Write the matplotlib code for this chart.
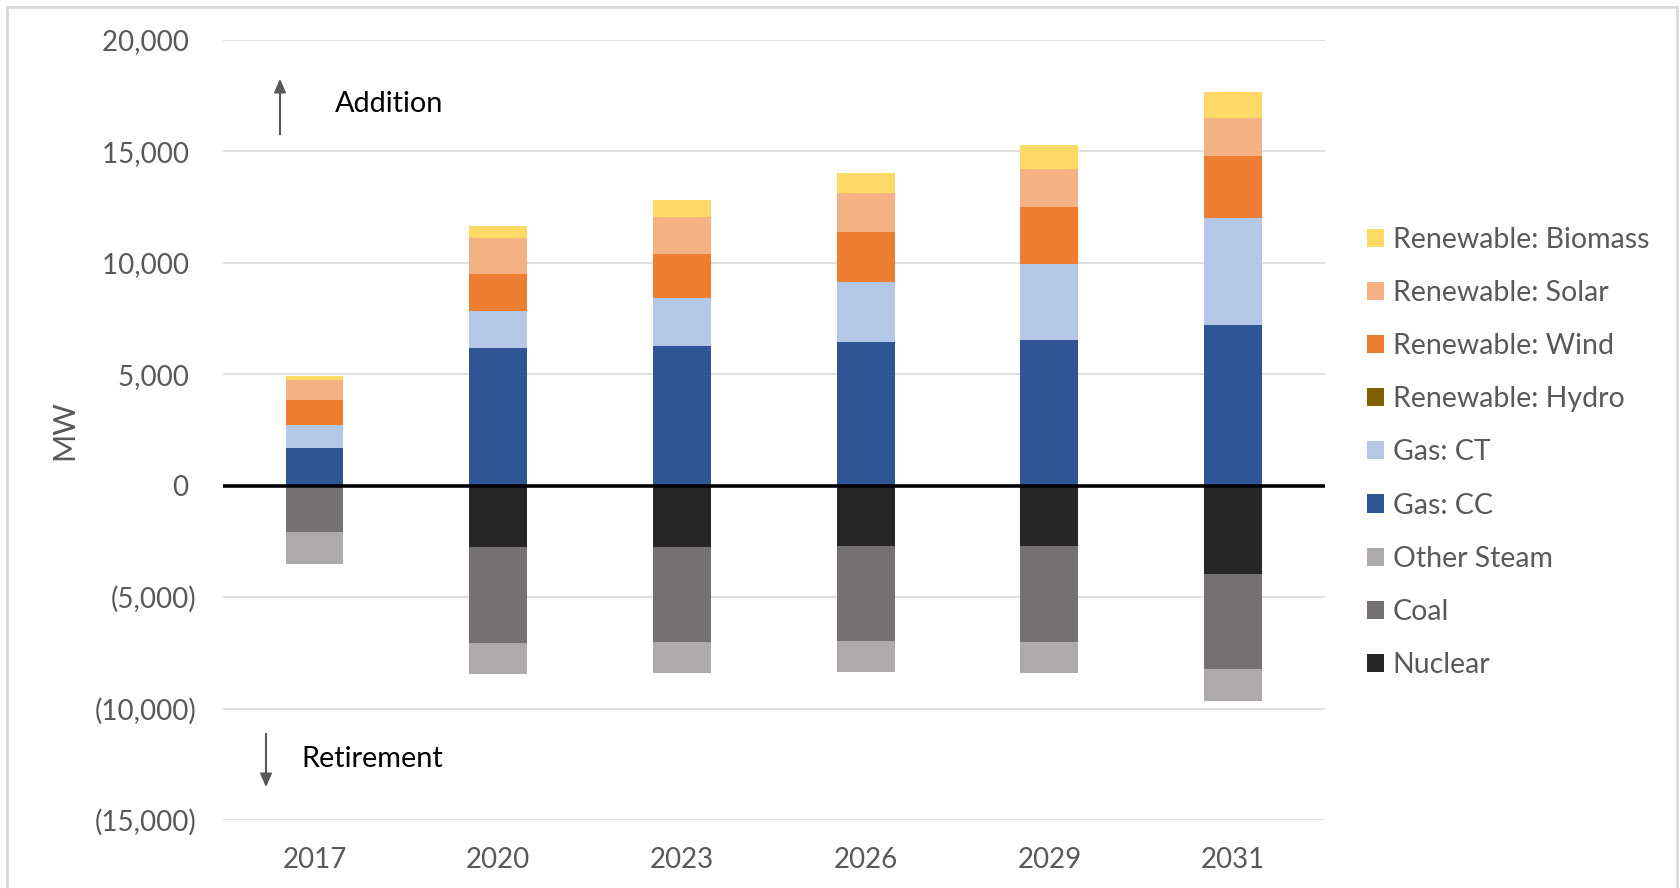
import matplotlib
matplotlib.use("Agg")
import matplotlib.pyplot as plt
from matplotlib.patches import Patch
from matplotlib.ticker import FuncFormatter, FixedLocator
from matplotlib.lines import Line2D

plt.rcParams['font.family'] = ['Lato', 'DejaVu Sans']

# Capacity changes by year (MW)
years = ["2017", "2020", "2023", "2026", "2029", "2031"]

# Additions (positive, stacked upward in this order)
gas_cc = [1700, 6180, 6280, 6450, 6510, 7200]
gas_ct = [1010, 1630, 2110, 2660, 3420, 4790]
ren_hydro = [0, 0, 0, 0, 0, 0]
ren_wind = [1140, 1690, 2010, 2280, 2560, 2790]
ren_solar = [870, 1600, 1640, 1750, 1720, 1710]
ren_biomass = [190, 540, 750, 890, 1080, 1150]

# Retirements (negative, stacked downward in this order)
nuclear = [0, -2740, -2740, -2730, -2710, -3950]
coal = [-2080, -4300, -4290, -4250, -4300, -4260]
other_steam = [-1450, -1420, -1390, -1400, -1410, -1450]

y_ticks = [20000, 15000, 10000, 5000, 0, -5000, -10000, -15000]

colors = {
    "Renewable: Biomass": "#FFD966",
    "Renewable: Solar": "#F4B183",
    "Renewable: Wind": "#ED7D31",
    "Renewable: Hydro": "#7F6000",
    "Gas: CT": "#B4C7E7",
    "Gas: CC": "#2F5597",
    "Other Steam": "#AEAAAA",
    "Coal": "#767171",
    "Nuclear": "#262626",
}

W, H = 1680, 888
fig = plt.figure(figsize=(W / 100, H / 100), dpi=100)
ax = fig.add_axes([222.7 / W, 1 - 820 / H, (1325 - 222.7) / W, (820 - 39.6) / H])

x = list(range(len(years)))
bw = 0.315

pos_series = [("Gas: CC", gas_cc), ("Gas: CT", gas_ct), ("Renewable: Hydro", ren_hydro),
              ("Renewable: Wind", ren_wind), ("Renewable: Solar", ren_solar),
              ("Renewable: Biomass", ren_biomass)]
neg_series = [("Nuclear", nuclear), ("Coal", coal), ("Other Steam", other_steam)]

base = [0] * len(years)
for name, vals in pos_series:
    ax.bar(x, vals, bw, bottom=base, color=colors[name], zorder=3, linewidth=0)
    base = [b + v for b, v in zip(base, vals)]
base = [0] * len(years)
for name, vals in neg_series:
    ax.bar(x, vals, bw, bottom=base, color=colors[name], zorder=3, linewidth=0)
    base = [b + v for b, v in zip(base, vals)]

ax.set_xlim(-0.5, len(years) - 0.5)
ax.set_ylim(-15000, 20000)
ax.yaxis.set_major_locator(FixedLocator(y_ticks))
ax.grid(axis='y', color='#D9D9D9', lw=1.1, zorder=0)
ax.axhline(0, color='black', lw=2.6, zorder=4)
for s in ax.spines.values():
    s.set_visible(False)


def fmt(v, _pos):
    if v < 0:
        return "({:,.0f})".format(-v)
    return "{:,.0f} ".format(v)


ax.yaxis.set_major_formatter(FuncFormatter(fmt))
ax.set_xticks(x)
ax.set_xticklabels(years)
ax.tick_params(axis='both', length=0, colors='#595959', labelsize=20)
ax.tick_params(axis='y', pad=19)
ax.tick_params(axis='x', pad=19.5)
ax.set_ylabel("MW", color='#595959', fontsize=22)
ax.yaxis.set_label_coords(-0.1313, 0.5)

# Direction annotations
fig.add_artist(Line2D([280 / W, 280 / W], [1 - 134 / H, 1 - 90 / H], color='#595959', lw=1.5))
ax.annotate("", xy=(280 / W, 1 - 76 / H), xytext=(280 / W, 1 - 100 / H),
            xycoords='figure fraction', textcoords='figure fraction',
            arrowprops=dict(arrowstyle='-|>,head_length=0.8,head_width=0.35',
                            color='#595959', lw=1.5))
fig.text(335 / W, 1 - 104 / H, "Addition", fontsize=20.8, color='black', va='center')

fig.add_artist(Line2D([266 / W, 266 / W], [1 - 734 / H, 1 - 775 / H], color='#595959', lw=1.5))
ax.annotate("", xy=(266 / W, 1 - 790 / H), xytext=(266 / W, 1 - 766 / H),
            xycoords='figure fraction', textcoords='figure fraction',
            arrowprops=dict(arrowstyle='-|>,head_length=0.8,head_width=0.35',
                            color='#595959', lw=1.5))
fig.text(301 / W, 1 - 759 / H, "Retirement", fontsize=20.8, color='black', va='center')

# Legend
legend_order = ["Renewable: Biomass", "Renewable: Solar", "Renewable: Wind", "Renewable: Hydro",
                "Gas: CT", "Gas: CC", "Other Steam", "Coal", "Nuclear"]
handles = [Patch(facecolor=colors[n], edgecolor='none', label=n) for n in legend_order]
leg = fig.legend(handles=handles, loc='upper left', bbox_to_anchor=(1367 / W, 1 - 227 / H),
                 frameon=False, fontsize=20.5, handlelength=0.6, handleheight=0.6,
                 handletextpad=0.3, labelspacing=0.952, borderaxespad=0, borderpad=0)
for t in leg.get_texts():
    t.set_color('#595959')

# Outer frame
fc = '#D9D9D9'
fig.add_artist(Line2D([7 / W, 1677 / W], [1 - 7 / H, 1 - 7 / H], color=fc, lw=2))
fig.add_artist(Line2D([7 / W, 7 / W], [0, 1 - 7 / H], color=fc, lw=2))
fig.add_artist(Line2D([1677 / W, 1677 / W], [0, 1 - 7 / H], color=fc, lw=2))

fig.savefig("out.png", dpi=100)
